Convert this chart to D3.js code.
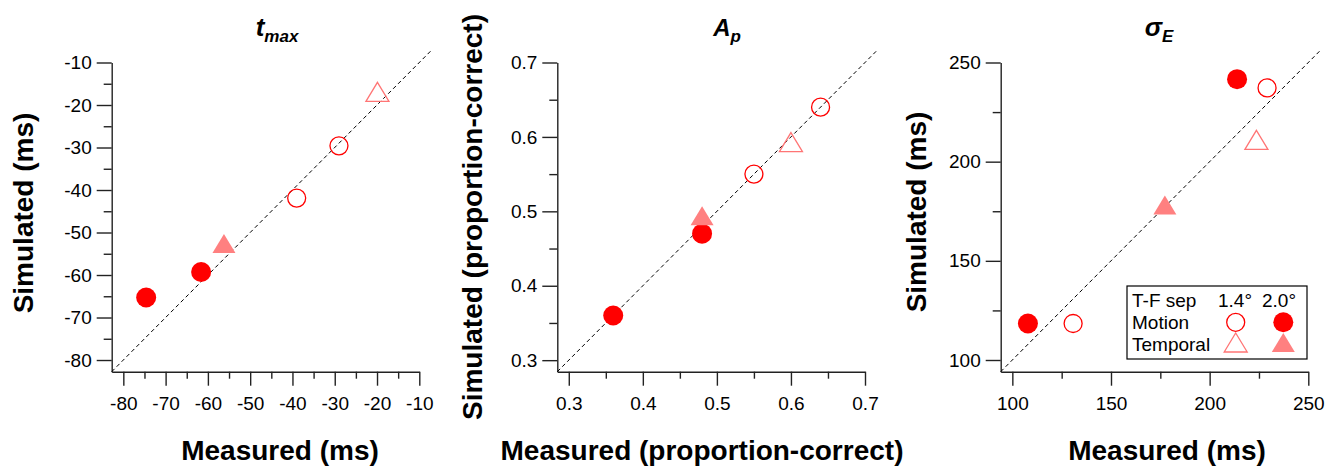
<!DOCTYPE html>
<html>
<head>
<meta charset="utf-8">
<script src="https://cdn.jsdelivr.net/npm/d3@7"></script>
<style>
  body { margin: 0; background: #fff; }
  svg { display: block; font-family: "Liberation Sans", Arial, sans-serif; }
</style>
</head>
<body>
<div id="chart"></div>
<script>
// condition codes: motion / temporal task, 1.4° or 2.0° T-F separation
const conditions = ["motion1.4", "motion2.0", "temporal1.4", "temporal2.0"];

// t_max panel
const tmaxMeasured  = [-74.6, -61.6, -56.2, -39.0, -29.0, -19.9];
const tmaxSimulated = [-65.3, -59.3, -52.6, -41.9, -29.6, -16.9];
const tmaxCond      = ["motion2.0", "motion2.0", "temporal2.0", "motion1.4", "motion1.4", "temporal1.4"];
const tmaxTicks     = [-80, -70, -60, -50, -40, -30, -20, -10];
const tmaxMinor     = [-75, -65, -55, -45, -35, -25, -15];

// A_p panel
const apMeasured  = [0.36, 0.48, 0.48, 0.55, 0.60, 0.64];
const apSimulated = [0.36, 0.47, 0.494, 0.55, 0.593, 0.64];
const apCond      = ["motion2.0", "motion2.0", "temporal2.0", "motion1.4", "temporal1.4", "motion1.4"];
const apTicks     = [0.3, 0.4, 0.5, 0.6, 0.7];
const apMinor     = [0.35, 0.45, 0.55, 0.65];

// sigma_E panel
const sigMeasured  = [107.9, 130.8, 177.3, 213.9, 229.1, 223.7];
const sigSimulated = [118.4, 118.4, 178.2, 241.6, 237.2, 211.0];
const sigCond      = ["motion2.0", "motion1.4", "temporal2.0", "motion2.0", "motion1.4", "temporal1.4"];
const sigTicks     = [100, 150, 200, 250];
const sigMinor     = [125, 175, 225];

const legendHeader = ["T-F sep", "1.4°", "2.0°"];
const legendRows   = ["Motion", "Temporal"];

const width = 1336, height = 468;
const plotTop = 62.5, plotBottom = 371.7;

const svg = d3.select("#chart").append("svg")
    .attr("width", width)
    .attr("height", height);

// marker styles
const markerStyle = {
    "motion1.4":   { shape: "circle", fill: "none", stroke: "#ff0000", r: 9 },
    "motion2.0":   { shape: "circle", fill: "#ff0000", stroke: "none", r: 10 },
    "temporal1.4": { shape: "triangle", fill: "none", stroke: "#ff7575" },
    "temporal2.0": { shape: "triangle", fill: "#ff8080", stroke: "none" }
};
const triPath = "M0,-9.5L11.5,9.5L-11.5,9.5Z";

function drawMarker(g, cond, cx, cy) {
    const s = markerStyle[cond];
    if (s.shape === "circle") {
        g.append("circle")
            .attr("cx", cx).attr("cy", cy).attr("r", s.r)
            .attr("fill", s.fill)
            .attr("stroke", s.stroke)
            .attr("stroke-width", 1.3);
    } else {
        g.append("path")
            .attr("d", triPath)
            .attr("transform", `translate(${cx},${cy})`)
            .attr("fill", s.fill)
            .attr("stroke", s.stroke)
            .attr("stroke-width", 1.3);
    }
}

function panel(cfg) {
    const x = d3.scaleLinear().domain(cfg.domain).range([cfg.left, cfg.right]);
    const y = d3.scaleLinear().domain(cfg.domain).range([plotBottom, plotTop]);
    const g = svg.append("g");

    // minor ticks
    g.append("g")
        .attr("transform", `translate(0,${plotBottom})`)
        .call(d3.axisBottom(x).tickValues(cfg.minor).tickSize(7).tickSizeOuter(0).tickFormat(""))
        .call(a => a.select(".domain").remove());
    g.append("g")
        .attr("transform", `translate(${cfg.left},0)`)
        .call(d3.axisLeft(y).tickValues(cfg.minor).tickSize(8).tickSizeOuter(0).tickFormat(""))
        .call(a => a.select(".domain").remove());

    // major ticks + labels
    g.append("g")
        .attr("transform", `translate(0,${plotBottom})`)
        .attr("font-size", 19)
        .attr("font-family", "'Liberation Sans', Arial, sans-serif")
        .call(d3.axisBottom(x).tickValues(cfg.ticks).tickSize(14).tickSizeOuter(0)
            .tickPadding(11).tickFormat(cfg.fmt))
        .attr("font-size", 19)
        .attr("font-family", "'Liberation Sans', Arial, sans-serif");
    g.append("g")
        .attr("transform", `translate(${cfg.left},0)`)
        .call(d3.axisLeft(y).tickValues(cfg.ticks).tickSize(15).tickSizeOuter(0)
            .tickPadding(5).tickFormat(cfg.fmt))
        .attr("font-size", 19)
        .attr("font-family", "'Liberation Sans', Arial, sans-serif");

    g.selectAll(".tick text").attr("fill", "#000");
    g.selectAll(".tick line, .domain")
        .attr("stroke", "#222")
        .attr("stroke-width", 1.4);

    // identity line
    const ext = cfg.domain[1] + 0.04 * (cfg.domain[1] - cfg.domain[0]);
    g.append("line")
        .attr("x1", x(cfg.domain[0])).attr("y1", y(cfg.domain[0]))
        .attr("x2", x(ext)).attr("y2", y(ext))
        .attr("stroke", "#000")
        .attr("stroke-width", 1)
        .attr("stroke-dasharray", "4,3");

    // points
    cfg.measured.forEach((m, i) => drawMarker(g, cfg.cond[i], x(m), y(cfg.simulated[i])));

    // title
    const t = g.append("text")
        .attr("x", cfg.titleX).attr("y", 36)
        .attr("text-anchor", "middle")
        .style("font-weight", "bold")
        .style("font-style", "italic")
        .style("font-size", cfg.titleSize + "px");
    t.append("tspan").text(cfg.title);
    t.append("tspan").attr("dy", 6).style("font-size", "17px").text(cfg.sub);

    // axis titles
    g.append("text")
        .attr("x", cfg.xTitleX).attr("y", 460)
        .attr("text-anchor", "middle")
        .style("font-weight", "bold")
        .style("font-size", "28px")
        .text(cfg.xTitle);
    g.append("text")
        .attr("transform", `translate(${cfg.yTitleX},${cfg.yTitleY}) rotate(-90)`)
        .attr("text-anchor", "middle")
        .style("font-weight", "bold")
        .style("font-size", "28px")
        .text(cfg.yTitle);

    return g;
}

panel({
    left: 111.7, right: 419.3, domain: [-82.75, -10],
    ticks: tmaxTicks, minor: tmaxMinor, fmt: d => String(d),
    measured: tmaxMeasured, simulated: tmaxSimulated, cond: tmaxCond,
    title: "t", sub: "max", titleX: 277, titleSize: 26,
    xTitle: "Measured (ms)", xTitleX: 280,
    yTitle: "Simulated (ms)", yTitleX: 33, yTitleY: 213
});

panel({
    left: 557.3, right: 865, domain: [0.2845, 0.7],
    ticks: apTicks, minor: apMinor, fmt: d3.format(".1f"),
    measured: apMeasured, simulated: apSimulated, cond: apCond,
    title: "A", sub: "p", titleX: 727, titleSize: 24,
    xTitle: "Measured (proportion-correct)", xTitleX: 702,
    yTitle: "Simulated (proportion-correct)", yTitleX: 482, yTitleY: 217
});

const sigPanel = panel({
    left: 1000.7, right: 1308.3, domain: [94.1, 250],
    ticks: sigTicks, minor: sigMinor, fmt: d => String(d),
    measured: sigMeasured, simulated: sigSimulated, cond: sigCond,
    title: "σ", sub: "E", titleX: 1159, titleSize: 26,
    xTitle: "Measured (ms)", xTitleX: 1167,
    yTitle: "Simulated (ms)", yTitleX: 926, yTitleY: 212
});

// legend
const legend = sigPanel.append("g").attr("transform", "translate(1127,286)");
legend.append("rect")
    .attr("width", 180).attr("height", 73)
    .attr("fill", "#fff")
    .attr("stroke", "#000")
    .attr("stroke-width", 1.2);

const colX = [5, 108, 152];
legendHeader.forEach((h, i) => {
    legend.append("text")
        .attr("x", colX[i])
        .attr("y", 21)
        .attr("text-anchor", i === 0 ? "start" : "middle")
        .style("font-size", "19px")
        .text(h);
});
legendRows.forEach((r, i) => {
    legend.append("text")
        .attr("x", 5)
        .attr("y", 43 + i * 22)
        .style("font-size", "19px")
        .text(r);
    const base = i === 0 ? "motion" : "temporal";
    drawMarker(legend, base + "1.4", 108.7, 36.3 + i * 20.2);
    drawMarker(legend, base + "2.0", 156.3, 36.3 + i * 20.2);
});
</script>
</body>
</html>
